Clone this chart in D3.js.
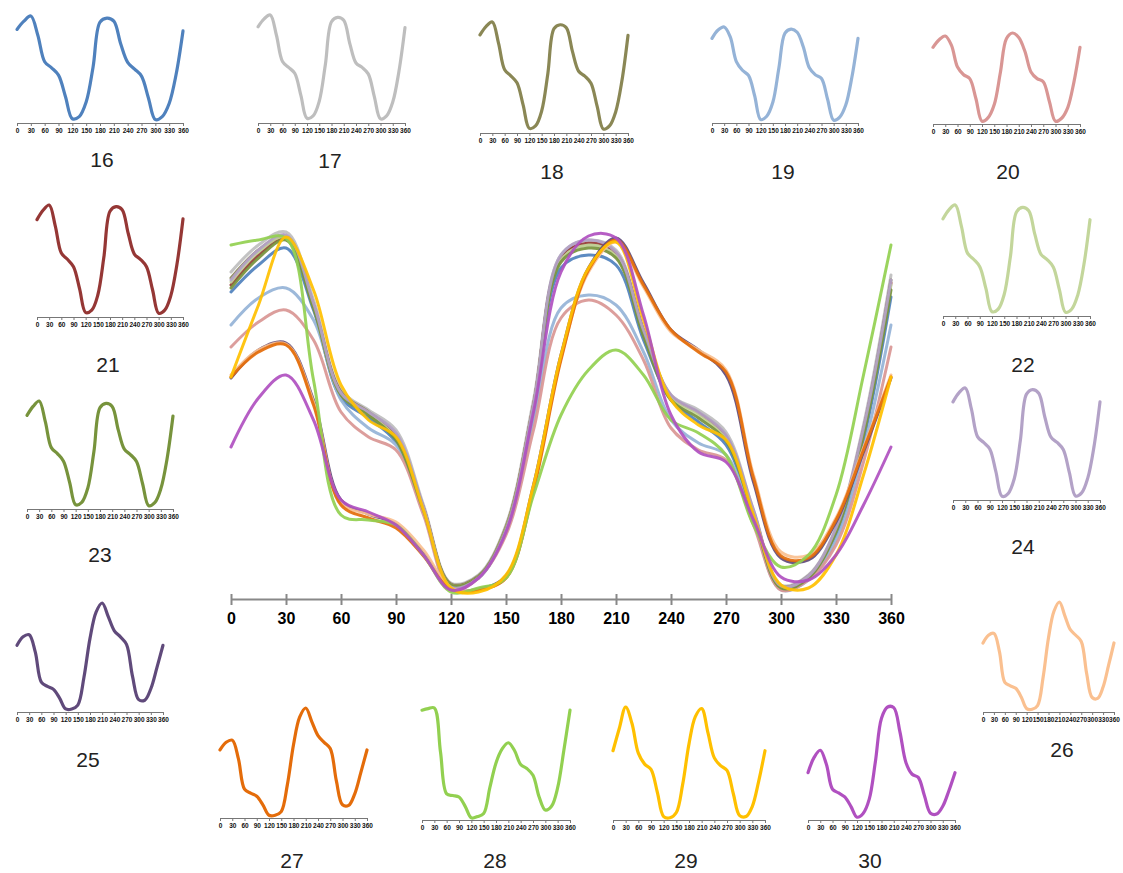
<!DOCTYPE html>
<html><head><meta charset="utf-8">
<script src="https://cdn.jsdelivr.net/npm/d3@7"></script>
<style>body{margin:0;background:#fff}svg{display:block}</style>
</head><body>
<svg id="c" width="1123" height="873"></svg>
<script>
// ---------- data ----------
const angles = d3.range(0, 361, 15);
const tickValues = [0, 30, 60, 90, 120, 150, 180, 210, 240, 270, 300, 330, 360];
const seriesNames = ["16","17","18","19","20","21","22","23","24","25","26","27","28","29","30"];

const s16 = [307,334,351,289,201,181,157,87,14,21,69,184,331,344,334,259,199,177,154,82,11,21,64,159,302];
const s17 = [327,354,367,299,209,189,169,94,16,24,74,199,344,359,349,269,204,189,167,89,14,24,71,174,324];
const s18 = [321,349,363,294,207,187,164,91,15,23,72,194,341,354,344,266,202,186,163,87,13,23,69,169,319];
const s19 = [274,301,311,279,199,171,154,89,11,22,67,179,291,304,294,247,179,156,144,77,9,19,59,149,274];
const s20 = [252,277,289,259,187,162,149,84,9,21,64,169,281,299,284,239,171,149,139,74,9,19,54,137,252];
const s21 = [314,344,361,294,206,186,162,91,14,22,71,194,341,356,346,269,203,186,162,87,12,22,69,169,316];
const s22 = [317,347,362,293,205,185,161,90,14,22,71,193,339,354,343,266,201,184,160,86,12,22,68,167,314];
const s23 = [311,341,359,291,204,184,159,89,14,22,70,191,337,351,341,263,199,181,158,84,11,21,67,164,309];
const s24 = [319,349,364,296,206,187,166,92,12,21,69,194,344,359,347,269,204,187,164,89,13,23,71,171,319];
const s25 = [221,249,256,199,99,85,75,46,10,10,23,114,244,331,361,316,269,249,224,117,41,39,77,147,221];
const s26 = [224,249,255,197,96,85,77,49,11,9,21,111,241,327,357,312,267,249,229,124,47,44,81,151,224];
const s27 = [222,247,254,194,94,81,71,43,9,9,21,109,239,329,359,314,269,247,227,121,43,41,79,149,222];
const s28 = [354,359,361,219,84,79,74,44,7,11,21,104,184,229,249,224,179,166,144,74,32,44,104,224,354];
const s29 = [222,294,362,309,214,179,162,89,11,7,24,114,244,331,357,279,199,174,159,84,14,11,44,124,222];
const s30 = [152,201,224,179,99,87,74,44,9,21,67,187,327,363,361,284,184,147,137,79,22,19,44,94,152];
const seriesValues = [s16,s17,s18,s19,s20,s21,s22,s23,s24,s25,s26,s27,s28,s29,s30];

// ---------- styles / layout ----------
const palette = ["#4F81BD","#BEBEBE","#8A8755","#95B3D7","#D99694","#953735","#C3D69B","#77933C",
                 "#B3A2C7","#604A7B","#FAC090","#E46C0A","#92D050","#FFC000","#B050C0"];
// [x0, x1, axisY, topY, labelX, labelY]
const smallLayout = [
  [17,183,123,16,102,167],[258,405,123,15,330,168],[480,628,133,22,552,179],
  [712,858,123,27,783,179],[933,1080,124,33,1008,179],
  [37,183,317,205,108,372],[943,1090,316,205,1023,372],
  [27,173,509,401,100,562],[953,1100,500,388,1023,554],
  [17,163,712,603,88,767],[983,1114,712,602,1062,757],
  [220,367,818,708,292,868],[422,570,820,708,495,868],[613,765,820,707,686,868],[808,955,820,707,870,868]
];

const svg = d3.select("#c");
const curve = d3.curveCatmullRom.alpha(0.5);

// ---------- main chart ----------
const xMain = d3.scaleLinear().domain([0,360]).range([231,891]);
const yMain = d3.scaleLinear().domain([0,370]).range([599,229]);
const main = svg.append("g");
const lineMain = d3.line().x((d,i)=>xMain(angles[i])).y(d=>yMain(d)).curve(curve);
seriesValues.forEach((vals,k)=>{
  main.append("path").attr("d", lineMain(vals)).attr("fill","none")
    .attr("stroke", palette[k]).attr("stroke-width",3).attr("stroke-opacity",0.92)
    .attr("stroke-linejoin","round").attr("stroke-linecap","round");
});
const ax = main.append("g").attr("transform","translate(0,599)")
  .call(d3.axisBottom(xMain).tickValues(tickValues).tickSizeInner(6).tickSizeOuter(0).tickPadding(8).tickFormat(d3.format("d")));
ax.select(".domain").attr("stroke","#888").attr("stroke-width",2);
ax.selectAll(".tick line").attr("stroke","#888").attr("stroke-width",2).attr("y1",-5);
ax.selectAll(".tick text").attr("font-family","'Liberation Sans Narrow','Liberation Sans',Arial,sans-serif")
  .attr("font-weight","bold").attr("font-size",16).attr("fill","#000");

// ---------- small multiples ----------
seriesValues.forEach((vals,k)=>{
  const [x0,x1,ay,ty,lx,ly] = smallLayout[k];
  const xs = d3.scaleLinear().domain([0,360]).range([x0,x1]);
  const ys = d3.scaleLinear().domain([0,d3.max(vals)]).range([ay,ty]);
  const g = svg.append("g");
  const a = g.append("g").attr("transform",`translate(0,${ay})`)
    .call(d3.axisBottom(xs).tickValues(tickValues).tickSizeInner(3).tickSizeOuter(0).tickPadding(2).tickFormat(d3.format("d")));
  a.select(".domain").attr("stroke","#777").attr("stroke-width",1);
  a.selectAll(".tick line").attr("stroke","#777");
  a.selectAll(".tick text").attr("font-family","'Liberation Sans',Arial,sans-serif")
    .attr("font-size",6.5).attr("font-weight","bold").attr("fill","#111");
  g.append("path").datum(vals)
    .attr("d", d3.line().x((d,i)=>xs(angles[i])).y(d=>ys(d)).curve(curve))
    .attr("fill","none").attr("stroke",palette[k]).attr("stroke-width",3.2)
    .attr("stroke-linejoin","round").attr("stroke-linecap","round");
  g.append("text").attr("x",lx).attr("y",ly).attr("text-anchor","middle")
    .attr("font-family","'Liberation Sans',Arial,sans-serif").attr("font-size",21).attr("fill","#222")
    .text(seriesNames[k]);
});
</script>
</body></html>
